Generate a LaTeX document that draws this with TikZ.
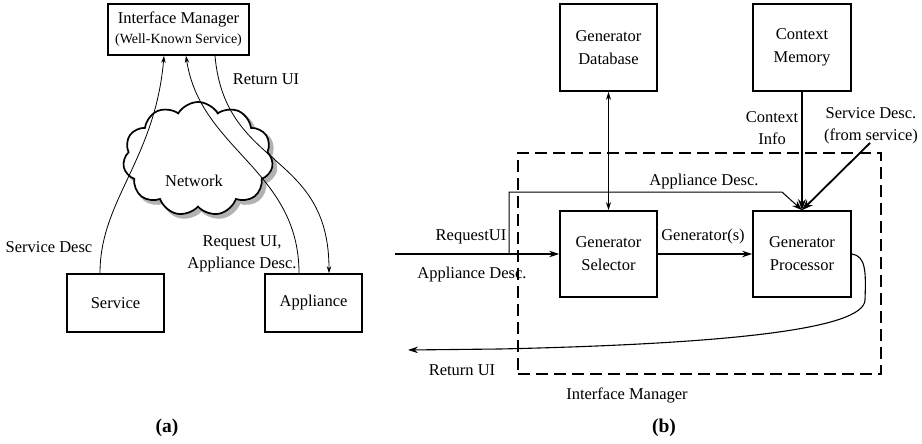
\documentclass[tikz,border=0pt]{standalone}
\usepackage{fontspec}
\setmainfont{Liberation Serif}
\newfontfamily\tnr{Liberation Serif}
\usetikzlibrary{shapes.symbols,arrows.meta}
\begin{document}
\begin{tikzpicture}[x=1pt,y=-1pt,
  font=\tnr\fontsize{16.5}{23}\selectfont,
  box/.style={draw, line width=1.7pt, inner sep=0pt, align=center},
  lbl/.style={inner sep=0pt, align=center},
  cloudshape/.style={cloud, cloud puffs=11, cloud puff arc=120, aspect=1.3,
    minimum width=150pt, minimum height=114pt, inner sep=0pt},
  thinarr/.style={line width=0.8pt, -{Stealth[length=7pt,width=4.5pt]}},
  midarr/.style={line width=1.1pt, -{Stealth[length=10pt,width=6.5pt]}},
  heavyarr/.style={line width=1.8pt, -{Stealth[length=11pt,width=8pt]}},
  dbl/.style={line width=0.8pt, {Stealth[length=8pt,width=5pt]}-{Stealth[length=8pt,width=5pt]}}]
\useasboundingbox[fill=white] (0,0) rectangle (922,444);

% ---------------- panel (a)
\node[box, minimum width=141pt, minimum height=51pt] (im) at (178.5,29.5)
  {Interface Manager\\[-3pt]{\fontsize{14}{16}\selectfont (Well-Known Service)}};
\node[box, minimum width=97pt, minimum height=58pt] (svc) at (115.5,303) {Service};
\node[box, minimum width=97pt, minimum height=58pt] (app) at (313.5,303) {Appliance};
\node[cloudshape, draw=gray!60, line width=2.5pt, fill=gray!60] (netshadow) at (201.5,162.5) {};
\node[cloudshape, draw, line width=1.7pt, fill=white] (net) at (198,159) {};
\node[lbl] (nettxt) at (194,181) {Network};

\draw[thinarr] ([xshift=-15.5pt]svc.north) .. controls (100,200) and (155,160) .. ([xshift=-14.5pt]im.south);
\draw[thinarr] ([xshift=-14.5pt]app.north) .. controls (299,170) and (200,150) .. ([xshift=7.5pt]im.south);
\draw[thinarr] ([xshift=36.5pt]im.south) .. controls (225,170) and (329,150) .. ([xshift=15.5pt]app.north);

\node[lbl] (lret) at (266,79) {Return UI};
\node[lbl] (lsd) at (49,247) {Service Desc};
\node[lbl] (lreq) at (242,254) {Request UI,\\[-1pt]Appliance Desc.};
\node[lbl, font=\tnr\fontsize{19.5}{22}\selectfont\bfseries] (capa) at (167,428) {(a)};

% ---------------- panel (b)
\node[draw, dashed, dash pattern=on 12pt off 6pt, line width=1.7pt, minimum width=363pt,
  minimum height=221pt, inner sep=0pt] (imb) at (699.5,263.5) {};
\node[lbl] (limb) at (627,395) {Interface Manager};

\node[box, minimum width=97pt, minimum height=87pt] (gd) at (608.5,47.5) {Generator\\Database};
\node[box, minimum width=98pt, minimum height=87pt] (cm) at (802,47.5) {Context\\Memory};
\node[box, minimum width=97pt, minimum height=86pt] (gs) at (608.5,254) {Generator\\Selector};
\node[box, minimum width=98pt, minimum height=86pt] (gp) at (802,254) {Generator\\Processor};

\coordinate (in) at (395,254);
\coordinate (br) at (509,254);
\coordinate (sd) at (870,143);
\coordinate (ret) at (408,350);

\draw[dbl] (gd.south) -- (gs.north);
\draw[midarr] (in) -- (gs.west);
\draw[midarr] (gs.east) -- (gp.west);
\draw[line width=1pt, -{Stealth[length=10pt,width=7pt]}] (br) -- (509,192) -- (782,192) -- (gp.north);
\draw[heavyarr] (cm.south) -- (gp.north);
\draw[heavyarr] (sd) -- (gp.north);
\draw[midarr] (gp.east) .. controls (866,256) and (866,272) .. (865,300)
  .. controls (864,330) and (720,344) .. (500,349) -- (ret);

\node[lbl] (lrq) at (471,237) {RequestUI};
\node[lbl] (lad) at (472,275) {Appliance Desc.};
\node[lbl] (lretb) at (462,370) {Return UI};
\node[lbl] (lgen) at (703,237) {Generator(s)};
\node[lbl] (lapb) at (704,182) {Appliance Desc.};
\node[lbl] (lci) at (772,128) {Context\\[-1pt]Info};
\node[lbl] (lsdb) at (871,126) {Service Desc.\\[-1pt](from service)};
\node[lbl, font=\tnr\fontsize{19.5}{22}\selectfont\bfseries] (capb) at (664,428) {(b)};
\end{tikzpicture}
\end{document}
